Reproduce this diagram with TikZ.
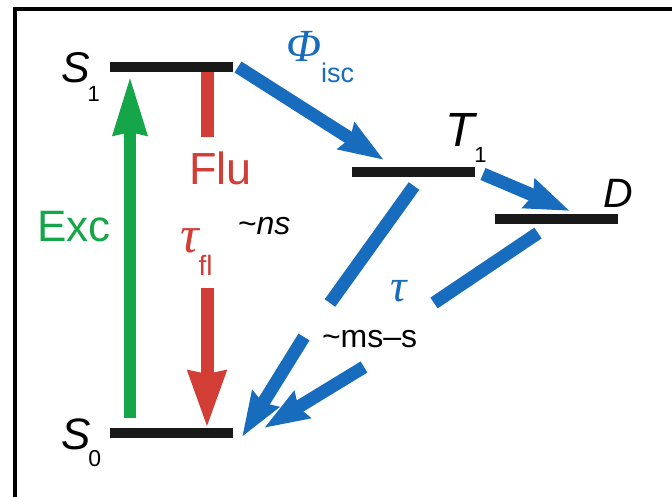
\documentclass[tikz,border=0pt]{standalone}
\usepackage{fontspec}
\setmainfont{Liberation Sans}
\newfontfamily\grk{Liberation Serif}
\usetikzlibrary{arrows.meta}
\definecolor{eblue}{RGB}{24,108,190}
\definecolor{egreen}{RGB}{22,166,74}
\definecolor{ered}{RGB}{210,62,54}
\newcommand\fsz[1]{\fontsize{#1}{#1}\selectfont}
\tikzset{
  level/.style={fill=black!90, inner sep=0pt, minimum width=123pt, minimum height=10pt},
  lbl/.style={anchor=base west, inner sep=0pt, outer sep=0pt},
  bluearrow/.style={draw=eblue, line width=13pt, -{Stealth[length=44pt,width=30pt,inset=4pt]}},
  blueline/.style={draw=eblue, line width=13pt},
  greenarrow/.style={draw=egreen, line width=12pt, -{Stealth[length=58pt,width=32pt,inset=2pt]}},
  redarrow/.style={draw=ered, line width=13pt, -{Stealth[length=56pt,width=36pt,inset=2pt]}},
  redline/.style={draw=ered, line width=13pt}
}
\begin{document}
\begin{tikzpicture}[x=1pt,y=-1pt]
\useasboundingbox (0,0) rectangle (672,497);
% frame
\draw[line width=4pt] (15,500) -- (15,9.5) -- (680,9.5);
% levels
\node[level] (S1) at (171,67) {};
\node[level] (S0) at (171,433) {};
\node[level] (T1) at (413,172) {};
\node[level] (D)  at (556,219) {};
% endpoints
\coordinate (excA) at (130,418);
\coordinate (excB) at (130,76);
\coordinate (fluA) at (207,72);
\coordinate (fluB) at (207,137);
\coordinate (fltA) at (207,288);
\coordinate (fltB) at (207,428);
\coordinate (iscA) at (238,67);
\coordinate (iscB) at (384,160);
\coordinate (tdA) at (483,174);
\coordinate (tdB) at (570,211);
\coordinate (laA) at (414,186);
\coordinate (laB) at (330,303);
\coordinate (lbA) at (538,233);
\coordinate (lbB) at (434,303);
\coordinate (acA) at (304,337);
\coordinate (acB) at (242,437);
\coordinate (adA) at (364,367);
\coordinate (adB) at (264,428);
% arrows
\draw[greenarrow] (excA) -- (excB);
\draw[redline] (fluA) -- (fluB);
\draw[redarrow] (fltA) -- (fltB);
\draw[bluearrow] (iscA) -- (iscB);
\draw[bluearrow] (tdA) -- (tdB);
\draw[blueline] (laA) -- (laB);
\draw[blueline] (lbA) -- (lbB);
\draw[bluearrow] (acA) -- (acB);
\draw[bluearrow] (adA) -- (adB);
% labels
\node[lbl] (tS1) at (61,83) {\fsz{43}\itshape S\kern-2pt\raisebox{-19pt}{\fsz{22}\upshape 1}};
\node[lbl] (tS0) at (61,449) {\fsz{44}\itshape S\kern-2pt\raisebox{-17pt}{\fsz{23}\upshape 0}};
\node[lbl] (tT1) at (445,147) {\fsz{48}\itshape T\raisebox{-16pt}{\fsz{22}\upshape 1}};
\node[lbl] (tD) at (603,208) {\fsz{41}\itshape D};
\node[lbl, text=eblue] (tisc) at (286,62) {\grk\fsz{46}\itshape Φ\raisebox{-21pt}{\rmfamily\fsz{27}\upshape isc}};
\node[lbl, text=ered] (tflu) at (189,185) {\fsz{45}Flu};
\node[lbl, text=egreen] (texc) at (37,242) {\fsz{44}Exc};
\node[lbl, text=ered] (ttau) at (180,253) {\grk\fsz{52}\itshape τ\raisebox{-22pt}{\rmfamily\fsz{28}\upshape fl}};
\node[lbl] (tns) at (238,235) {\fsz{32}\textasciitilde\itshape ns};
\node[lbl, text=eblue] (ttau2) at (390,301) {\grk\fsz{46}\itshape τ};
\node[lbl] (tms) at (322,347) {\fsz{32}\textasciitilde ms–s};
\end{tikzpicture}
\end{document}
